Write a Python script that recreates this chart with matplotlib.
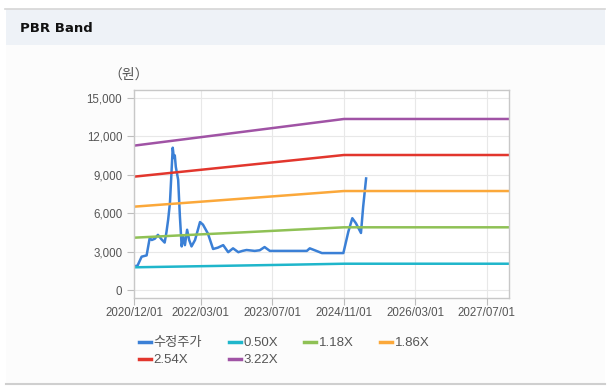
import numpy as np
import pandas as pd
import matplotlib
matplotlib.use("Agg")
import matplotlib.pyplot as plt
import matplotlib.dates as mdates
from matplotlib.patches import Rectangle
from matplotlib.lines import Line2D

# adjusted price (수정주가)
price_dates = ["2020-12-01", "2020-12-25", "2021-01-22", "2021-02-25", "2021-03-18",
               "2021-04-01", "2021-04-22", "2021-05-13", "2021-06-07", "2021-06-28",
               "2021-07-10", "2021-07-22", "2021-08-03", "2021-08-22", "2021-08-30",
               "2021-09-05", "2021-09-12", "2021-09-28", "2021-10-10", "2021-10-22",
               "2021-11-01", "2021-11-13", "2021-11-28", "2021-12-12", "2021-12-28",
               "2022-01-21", "2022-02-24", "2022-03-16", "2022-04-19", "2022-05-24",
               "2022-06-25", "2022-08-01", "2022-09-04", "2022-10-07", "2022-11-12",
               "2022-12-10", "2023-01-07", "2023-03-04", "2023-04-07", "2023-05-10",
               "2023-06-15", "2023-09-01", "2023-12-01", "2024-02-22", "2024-03-13",
               "2024-04-16", "2024-06-04", "2024-10-28", "2024-12-01", "2024-12-28",
               "2025-01-22", "2025-02-25", "2025-03-12", "2025-04-01"]
price = [1850, 1900, 2600, 2700, 4050,
         3900, 4000, 4300, 3950, 3700,
         4500, 5500, 6800, 11100, 10300,
         10500, 9600, 8600, 5700, 3400,
         4200, 3500, 4700, 3900, 3400,
         3900, 5300, 5100, 4400, 3200,
         3300, 3500, 2950, 3250, 2950,
         3050, 3120, 3050, 3100, 3350,
         3050, 3050, 3050, 3050, 3250,
         3100, 2880, 2880, 4550, 5600,
         5200, 4450, 6500, 8700]

# PBR band lines
band_dates = ["2020-12-01", "2021-12-01", "2022-12-01", "2023-12-01", "2024-11-01", "2027-12-01"]
band_050 = [1770, 1840, 1910, 1980, 2050, 2050]
band_118 = [4080, 4290, 4490, 4700, 4890, 4890]
band_186 = [6500, 6810, 7120, 7430, 7720, 7720]
band_254 = [8840, 9270, 9700, 10130, 10530, 10530]
band_322 = [11260, 11790, 12320, 12850, 13340, 13340]

series = [
    ("수정주가", price_dates, price, "#3b80d6"),
    ("0.50X", band_dates, band_050, "#1fb6cb"),
    ("1.18X", band_dates, band_118, "#8fc155"),
    ("1.86X", band_dates, band_186, "#fba83a"),
    ("2.54X", band_dates, band_254, "#e2362d"),
    ("3.22X", band_dates, band_322, "#a053a5"),
]

xticks = ["2020/12/01", "2022/03/01", "2023/07/01", "2024/11/01", "2026/03/01", "2027/07/01"]
yticks = [0, 3000, 6000, 9000, 12000, 15000]

plt.rcParams['font.family'] = ['Liberation Sans', 'Noto Sans CJK KR', 'DejaVu Sans']

W, H = 612, 392
fig = plt.figure(figsize=(W / 100, H / 100), dpi=100)
fig.patch.set_facecolor("white")

# page panel + header strip
fig.patches.append(Rectangle((6 / W, 1 - 383 / H), 599 / W, 374 / H, transform=fig.transFigure,
                             facecolor="#fcfcfc", edgecolor="none", zorder=-10))
fig.patches.append(Rectangle((6 / W, 1 - 44.5 / H), 599 / W, 35.5 / H, transform=fig.transFigure,
                             facecolor="#eef2f7", edgecolor="none", zorder=-9))
fig.lines.append(Line2D([5 / W, 605 / W], [1 - 9 / H, 1 - 9 / H], transform=fig.transFigure,
                        color="#d6d6d6", lw=1.2, zorder=-8))
fig.lines.append(Line2D([6 / W, 605 / W], [1 - 383.5 / H, 1 - 383.5 / H], transform=fig.transFigure,
                        color="#cfcfcf", lw=1.5, zorder=-8))
fig.text(20 / W, 1 - 28 / H, "PBR Band", fontsize=9.5, fontweight="bold",
         family="DejaVu Sans", va="center", ha="left", color="#111111")

ax = fig.add_axes([134 / W, 1 - 297.7 / H, 375 / W, 207.7 / H])
ax.set_facecolor("white")

lines = {}
for label, d, v, c in series:
    lines[label], = ax.plot(pd.to_datetime(d), v, color=c, lw=1.8, label=label,
                            solid_joinstyle="round")

ax.set_xlim(pd.Timestamp("2020-12-01"), pd.Timestamp("2027-12-01"))
ax.set_ylim(-600, 15600)
ax.set_xticks(pd.to_datetime(xticks))
ax.xaxis.set_major_formatter(mdates.DateFormatter("%Y/%m/%d"))
ax.set_yticks(yticks)
ax.set_yticklabels([f"{t:,}" for t in yticks])

ax.grid(True, color="#e8e8e8", lw=0.8)
ax.set_axisbelow(True)
for s in ax.spines.values():
    s.set_color("#c8c8c8")
    s.set_linewidth(1.0)
ax.tick_params(axis="both", colors="#bdbdbd", labelcolor="#555555", labelsize=8.3,
               length=5, width=0.8)
ax.tick_params(axis="x", pad=2)

fig.text(129 / W, 1 - 75 / H, "（원）", fontsize=10, color="#555555", ha="center", va="center",
         family=["Noto Sans CJK KR", "DejaVu Sans"])

# legend laid out row by row (matplotlib fills columns first)
order = ["수정주가", "2.54X", "0.50X", "3.22X", "1.18X", "1.86X"]
leg = ax.legend([lines[k] for k in order], order, loc="upper left",
                bbox_to_anchor=(0.0, -0.165), ncol=4, frameon=False,
                fontsize=9.5, labelcolor="#555555", handlelength=0.9, handletextpad=0.2,
                columnspacing=2.0, labelspacing=0.35, borderaxespad=0)
for ln in leg.get_lines():
    ln.set_linewidth(2.5)

fig.savefig("out.png", dpi=100)
